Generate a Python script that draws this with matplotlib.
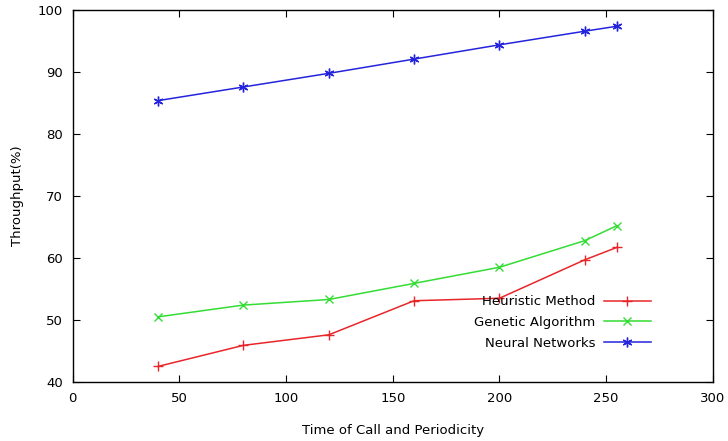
import matplotlib.pyplot as plt

x = [40, 80, 120, 160, 200, 240, 255]
heuristic = [42.5, 45.9, 47.6, 53.1, 53.5, 59.7, 61.7]
genetic = [50.5, 52.4, 53.3, 55.9, 58.5, 62.8, 65.2]
neural = [85.4, 87.6, 89.8, 92.1, 94.4, 96.6, 97.4]

plt.rcParams["font.family"] = "DejaVu Sans"

fig = plt.figure(figsize=(7.28, 4.41), dpi=100)
ax = fig.add_axes([0.100, 0.134, 0.879, 0.843])

ax.plot(x, heuristic, color="#e8262a", marker="+", markersize=7, lw=1.1,
        label="Heuristic Method")
ax.plot(x, genetic, color="#33dd33", marker="x", markersize=6, lw=1.1,
        label="Genetic Algorithm")
ax.plot(x, neural, color="#2424dd", marker=(6, 2, 0), markersize=7, lw=1.1,
        label="Neural Networks")

ax.set_xlim(0, 300)
ax.set_ylim(40, 100)
ax.set_xticks(range(0, 301, 50))
ax.set_yticks(range(40, 101, 10))
ax.tick_params(direction="in", top=True, right=True, length=5,
               labelsize=9.5, pad=7)
for spine in ax.spines.values():
    spine.set_linewidth(1.0)

ax.set_xlabel("Time of Call and Periodicity", fontsize=9.5, labelpad=14)
ax.set_ylabel("Throughput(%)", fontsize=9.5, labelpad=10)

leg = ax.legend(loc="lower right", bbox_to_anchor=(0.914, 0.068),
                frameon=False, markerfirst=False, fontsize=9.5,
                handlelength=3.6, labelspacing=0.6, borderpad=0,
                handletextpad=0.6)

fig.savefig("out.png", dpi=100)
